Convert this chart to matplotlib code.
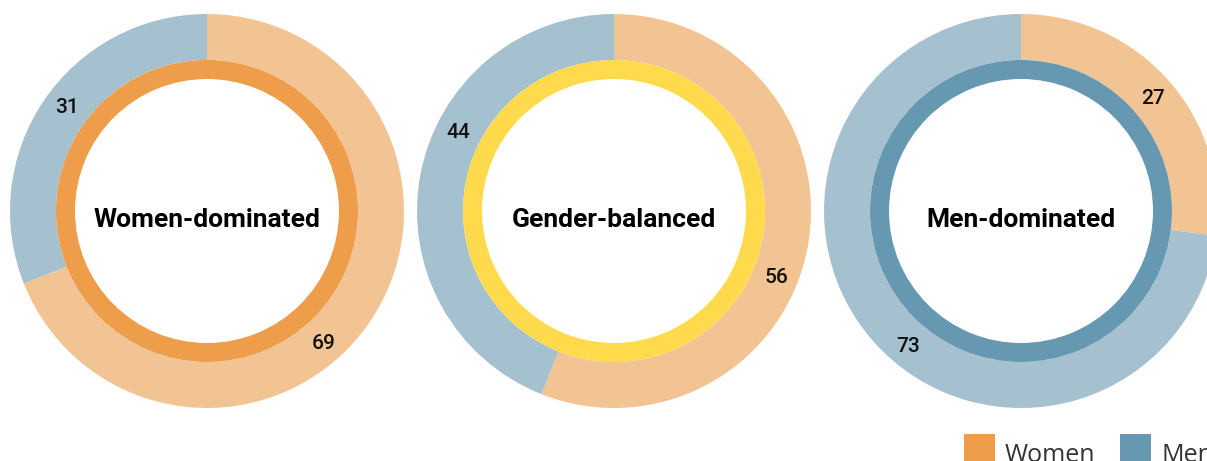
import matplotlib.pyplot as plt
from matplotlib.patches import Rectangle
import numpy as np

# data
groups = ['Women-dominated', 'Gender-balanced', 'Men-dominated']
women = [69, 56, 27]
men = [31, 44, 73]
# angle (deg) where each number sits, [women, men]
label_angles = [[-48, 143], [-21.5, 152.7], [41, -130.2]]

legend_labels = ['Women', 'Men']

light_orange = '#F3C493'
light_blue = '#A5C1CF'
orange = '#EE9D4A'
yellow = '#FFDA4D'
blue = '#6699B1'
ring_colors = [orange, yellow, blue]

W, H = 1207, 461
fig = plt.figure(figsize=(W / 100, H / 100), dpi=100)
ax = fig.add_axes([0, 0, 1, 1])

cx0, dx, cy = 207, 407, H - 211
R, r_mid, r_in = 197, 151, 132

for i, g in enumerate(groups):
    cx = cx0 + i * dx
    # outer ring: women clockwise from top, then men
    ax.pie([women[i], men[i]], colors=[light_orange, light_blue], startangle=90,
           counterclock=False, radius=R, center=(cx, cy),
           wedgeprops=dict(width=R - r_mid, linewidth=0), frame=True)
    # inner ring
    ax.pie([1], colors=[ring_colors[i]], radius=r_mid, center=(cx, cy),
           wedgeprops=dict(width=r_mid - r_in, linewidth=0), frame=True)
    ax.text(cx, cy - 16, g, ha='center', va='baseline', fontsize=19,
            fontweight='bold', family='Roboto', color='black')
    for val, ang in zip([women[i], men[i]], label_angles[i]):
        a = np.radians(ang)
        ax.text(cx + 175 * np.cos(a), cy + 175 * np.sin(a) - 7.5, str(val),
                ha='center', va='baseline', fontsize=15, fontweight=500,
                family='Roboto', color='#111111')

ax.set_xlim(0, W)
ax.set_ylim(0, H)
ax.set_aspect('equal')
ax.axis('off')

# legend at bottom right, clipped by the edge like the original
for j, (lab, col) in enumerate(zip(legend_labels, [orange, blue])):
    x0 = 964 + j * 156
    ax.add_patch(Rectangle((x0, H - 465), 31, 31, facecolor=col, edgecolor='none'))
    ax.text(x0 + 41, H - 462, lab, ha='left', va='baseline', fontsize=18,
            family='Open Sans', color='#333333')

fig.savefig('out.png', dpi=100)
